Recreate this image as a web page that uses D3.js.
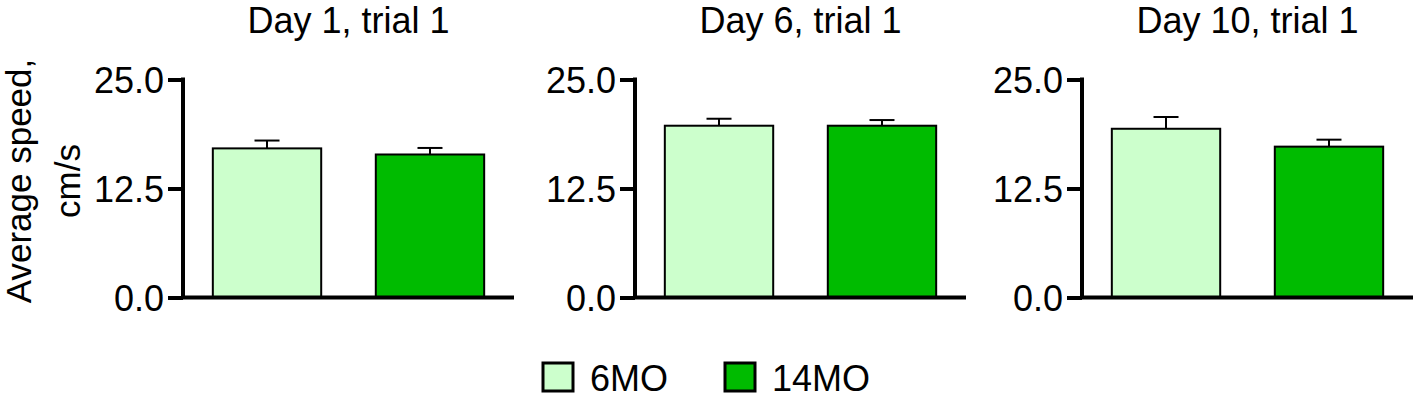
<!DOCTYPE html>
<html>
<head>
<meta charset="utf-8">
<script src="https://cdn.jsdelivr.net/npm/d3@7"></script>
<style>
  body { margin: 0; background: #fff; }
  text { font-family: "Liberation Sans", Arial, sans-serif; fill: #000; }
</style>
</head>
<body>
<svg id="chart" width="1417" height="399"></svg>
<script>
// chart data
var panels = ["Day 1, trial 1", "Day 6, trial 1", "Day 10, trial 1"];
var groups = ["6MO", "14MO"];
var mean6 = [17.1, 19.7, 19.35];
var sem6 = [0.9, 0.8, 1.35];
var mean14 = [16.4, 19.7, 17.3];
var sem14 = [0.75, 0.65, 0.8];
var yTicks = [0, 12.5, 25];

var colors = { "6MO": "#ccffcc", "14MO": "#00bb00" };

// layout
var axisLeft = [183, 635, 1082],
    panelWidth = 331,
    plotTop = 79.5,
    plotBottom = 297.5,
    fontSize = 36;

var svg = d3.select("#chart");

var y = d3.scaleLinear().domain([0, 25]).range([plotBottom, plotTop]);

panels.forEach(function (title, p) {
    var x = d3.scaleBand()
        .domain(groups)
        .range([axisLeft[p], axisLeft[p] + panelWidth])
        .paddingInner(0.335)
        .paddingOuter(0.183);

    var g = svg.append("g");

    var rows = [
        { group: "6MO", mean: mean6[p], sem: sem6[p] },
        { group: "14MO", mean: mean14[p], sem: sem14[p] }
    ];

    // error bars (upward only)
    var eb = g.selectAll(".err").data(rows).enter().append("g");
    eb.append("line")
        .attr("x1", d => x(d.group) + x.bandwidth() / 2)
        .attr("x2", d => x(d.group) + x.bandwidth() / 2)
        .attr("y1", d => y(d.mean))
        .attr("y2", d => y(d.mean + d.sem))
        .attr("stroke", "#000").attr("stroke-width", 2);
    eb.append("line")
        .attr("x1", d => x(d.group) + x.bandwidth() / 2 - 12.5)
        .attr("x2", d => x(d.group) + x.bandwidth() / 2 + 12.5)
        .attr("y1", d => y(d.mean + d.sem))
        .attr("y2", d => y(d.mean + d.sem))
        .attr("stroke", "#000").attr("stroke-width", 2);

    // bars
    g.selectAll("rect").data(rows).enter().append("rect")
        .attr("x", d => x(d.group))
        .attr("y", d => y(d.mean))
        .attr("width", x.bandwidth())
        .attr("height", d => y(0) - y(d.mean))
        .attr("fill", d => colors[d.group])
        .attr("stroke", "#000")
        .attr("stroke-width", 2);

    // y axis
    var yAxis = d3.axisLeft(y)
        .tickValues(yTicks)
        .tickFormat(d3.format(".1f"))
        .tickSize(15)
        .tickPadding(4);
    var ya = g.append("g")
        .attr("transform", "translate(" + axisLeft[p] + ",0)")
        .call(yAxis);
    ya.select(".domain").remove();
    ya.append("line")
        .attr("x1", 0).attr("x2", 0)
        .attr("y1", plotTop - 2).attr("y2", plotBottom)
        .attr("stroke", "#000").attr("stroke-width", 4);
    ya.selectAll(".tick line").attr("stroke-width", 4).attr("stroke", "#000");
    ya.selectAll(".tick text")
        .style("font-size", fontSize + "px")
        .style("font-family", "'Liberation Sans', Arial, sans-serif")
        .attr("fill", "#000")
        .attr("dy", "0.36em");

    // x axis baseline
    g.append("line")
        .attr("x1", axisLeft[p] - 2).attr("x2", axisLeft[p] + panelWidth)
        .attr("y1", plotBottom).attr("y2", plotBottom)
        .attr("stroke", "#000").attr("stroke-width", 4);

    // title
    g.append("text")
        .attr("x", axisLeft[p] + panelWidth / 2)
        .attr("y", 33)
        .attr("text-anchor", "middle")
        .style("font-size", fontSize + "px")
        .text(title);
});

// y axis label
var yl = svg.append("text")
    .attr("transform", "translate(0,181) rotate(-90)")
    .attr("text-anchor", "middle")
    .style("font-size", "35px");
yl.append("tspan").attr("x", 0).attr("y", 31).text("Average speed,");
yl.append("tspan").attr("x", 0).attr("y", 80).text("cm/s");

// legend
var legendX = [543, 725];
var legend = svg.selectAll(".legend").data(groups).enter().append("g")
    .attr("transform", (d, i) => "translate(" + legendX[i] + ",363)");
legend.append("rect")
    .attr("width", 30).attr("height", 28)
    .attr("fill", d => colors[d])
    .attr("stroke", "#000").attr("stroke-width", 3);
legend.append("text")
    .attr("x", 47).attr("y", 28)
    .style("font-size", fontSize + "px")
    .text(d => d);
</script>
</body>
</html>
